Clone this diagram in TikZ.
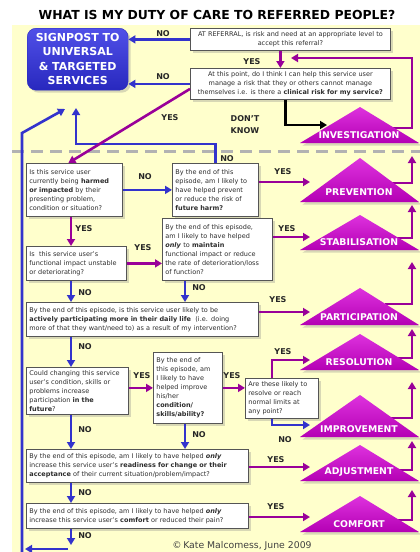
\documentclass[tikz,border=0pt]{standalone}
\usepackage{fontspec}
\setmainfont{DejaVu Sans}
\usetikzlibrary{arrows.meta,shadows}

\definecolor{bgyellow}{RGB}{255,255,204}
\definecolor{noblue}{RGB}{51,51,204}
\definecolor{yespurple}{RGB}{153,0,153}
\definecolor{tritop}{RGB}{222,50,222}
\definecolor{tribot}{RGB}{180,0,180}
\definecolor{signtop}{RGB}{80,80,232}
\definecolor{signbot}{RGB}{40,40,190}
\definecolor{boxline}{RGB}{85,85,85}
\definecolor{boxtext}{RGB}{45,45,45}
\definecolor{dashgray}{RGB}{178,178,178}

\begin{document}
\begin{tikzpicture}[x=1pt, y=-1pt,
	qbox/.style={ draw=boxline, line width=0.8pt, fill=white, anchor=north west, inner xsep=3pt, inner ysep=2pt, align=left, text=boxtext, font=\fontsize{6.5}{9}\selectfont, drop shadow={shadow xshift=2.5pt, shadow yshift=-2.5pt, opacity=0.3} },
	signbox/.style={ rounded corners=9pt, top color=signtop, bottom color=signbot, draw=signbot, anchor=north west, align=center, text=white, font=\fontsize{11}{14.5}\selectfont\bfseries, drop shadow={shadow xshift=2.5pt, shadow yshift=-2.5pt, opacity=0.3} },
	outfill/.style={ top color=tritop, bottom color=tribot, drop shadow={shadow xshift=2.5pt, shadow yshift=-2.5pt, opacity=0.3} },
	outtext/.style={ text=white, font=\fontsize{9.3}{10}\selectfont\bfseries },
	lbl/.style={ text=black!85, font=\fontsize{8}{12}\selectfont\bfseries, align=center },
	noarrow/.style={ draw=noblue, line width=2.6pt, -{Triangle[length=7pt,width=8pt]} },
	yesarrow/.style={ draw=yespurple, line width=2.6pt, -{Triangle[length=7pt,width=8pt]} },
	dkarrow/.style={ draw=black, line width=2.6pt, -{Triangle[length=7pt,width=8pt]} }
]
\useasboundingbox (0,0) rectangle (420,552);
\fill[bgyellow] (12,25) rectangle (420,552);
\draw[dashgray, line width=3pt, dash pattern=on 12pt off 7pt] (12,151) -- (420,151);

\node[font=\fontsize{12.4}{14}\selectfont\bfseries] (title) at (217,15) {WHAT IS MY DUTY OF CARE TO REFERRED PEOPLE?};

% above the line
\node[signbox, minimum width=101pt, minimum height=62pt] (sign) at (27,28) {SIGNPOST TO\\UNIVERSAL\\\& TARGETED\\SERVICES};
\node[qbox, align=center, text width=194pt, minimum height=22pt] (qref) at (190,28) {AT REFERRAL, is risk and need at an appropriate level to\\accept this referral?};
\node[qbox, align=center, text width=194pt, minimum height=31pt] (qrisk) at (190,68) {At this point, do I think I can help this service user\\manage a risk that they or others cannot manage\\themselves i.e. is there a \textbf{clinical risk for my service?}};

% questions
\node[qbox, text width=90pt, minimum height=53pt] (qharm) at (26,163) {Is this service user\\currently being \textbf{harmed}\\\textbf{or impacted} by their\\presenting problem,\\condition or situation?};
\node[qbox, text width=80pt, minimum height=53pt] (qprev) at (172,163) {By the end of this\\episode, am I likely to\\have helped prevent\\or reduce the risk of\\\textbf{future harm?}};
\node[qbox, text width=94pt, minimum height=34pt] (qunst) at (26,246) {Is\ \ this service user's\\functional impact unstable\\or deteriorating?};
\node[qbox, text width=104pt, minimum height=62pt] (qmaint) at (162,218) {By the end of this episode,\\am I likely to have helped\\\textbf{\textit{only}} to \textbf{maintain}\\functional impact or reduce\\the rate of deterioration/loss\\of function?};
\node[qbox, text width=226pt, minimum height=34pt] (qpart) at (26,302) {By the end of this episode, is this service user likely to be\\\textbf{actively participating more in their daily life}\ \ (i.e. doing\\more of that they want/need to) as a result of my intervention?};
\node[qbox, text width=96pt, minimum height=47pt] (qchg) at (26,367) {Could changing this service\\user's condition, skills or\\problems increase\\participation \textbf{in the}\\\textbf{future}?};
\node[qbox, text width=63pt, minimum height=71pt] (qimpr) at (153,352) {By the end of\\this episode, am\\I likely to have\\helped improve\\his/her\\\textbf{condition/}\\\textbf{skills/ability?}};
\node[qbox, text width=67pt, minimum height=40pt] (qres) at (245,378) {Are these likely to\\resolve or reach\\normal limits at\\any point?};
\node[qbox, text width=216pt, minimum height=33pt] (qadj) at (26,449) {By the end of this episode, am I likely to have helped \textbf{\textit{only}}\\increase this service user's \textbf{readiness for change or their}\\\textbf{acceptance} of their current situation/problem/impact?};
\node[qbox, text width=216pt, minimum height=25pt] (qcomf) at (26,503) {By the end of this episode, am I likely to have helped \textbf{\textit{only}}\\increase this service user's \textbf{comfort} or reduced their pain?};

% outcomes
\coordinate (inv-r) at (385,128);
\coordinate (inv-up) at (412,58);
\coordinate (invback) at (291,58);
\draw[yesarrow] (inv-r) -| (inv-up) -- (invback);
\path[outfill] (300,143) -- (360,107) -- (419,143) -- cycle;
\node[outtext] (tinv) at (359,135) {INVESTIGATION};

\foreach \n/\ay/\by/\ty/\ry/\uy/\iy/\lab in {
	prev/158/202/192/183/156/182/PREVENTION,
	stab/215/250/242/238/205/237/STABILISATION,
	part/288/325/317/304/262/312/PARTICIPATION,
	res/334/370/362/358/329/360/RESOLUTION,
	imp/395/437/429/418/382/425/IMPROVEMENT,
	adj/445/481/472/470/441/467/ADJUSTMENT,
	com/496/532/524/520/490/517/COMFORT}
{
	\coordinate (\n-in) at (310,\iy);
	\coordinate (\n-r) at (385,\ry);
	\coordinate (\n-up) at (412,\uy);
	\draw[yesarrow] (\n-r) -| (\n-up);
	\path[outfill] (300,\by) -- (360,\ay) -- (419,\by) -- cycle;
	\node[outtext] (t\n) at (359,\ty) {\lab};
}

\coordinate (lcol) at (71,0);
\coordinate (mcol) at (185,0);
\coordinate (rcol) at (272,0);
\coordinate (dkend) at (327,125);
\coordinate (upturn) at (76,144);
\coordinate (upend) at (76,108);
\coordinate (leftbot) at (22,552);
\coordinate (leftturn) at (22,133);
\coordinate (leftend) at (65,109);
\coordinate (botend) at (71,545);
\coordinate (botstart) at (68,549);
\coordinate (botleft) at (25,549);

% connectors
\draw[noarrow] (qref.west) -- (qref.west -| sign.east);
\draw[noarrow] (qrisk.west) -- (qrisk.west -| sign.east);
\draw[yesarrow] ([xshift=-10pt]qref.south) -- ([xshift=-10pt]qrisk.north);
\draw[dkarrow] ([xshift=-5pt]qrisk.south) |- (dkend);
\draw[noarrow] (leftbot) -- (leftturn) -- (leftend);
\draw[noarrow] (qprev.north) |- (upturn) -- (upend);
\draw[yesarrow] ([yshift=-5pt]qrisk.west) -- ([xshift=-6pt]qharm.north);

\draw[noarrow] (qharm.east) -- (qharm.east -| qprev.west);
\draw[yesarrow] (qprev.east |- prev-in) -- (prev-in);
\draw[yesarrow] (qharm.south -| lcol) -- (qunst.north -| lcol);
\draw[yesarrow] (qunst.east) -- (qunst.east -| qmaint.west);
\draw[yesarrow] (qmaint.east |- stab-in) -- (stab-in);
\draw[noarrow] (qunst.south -| lcol) -- (qpart.north -| lcol);
\draw[noarrow] (qmaint.south -| mcol) -- (qpart.north -| mcol);
\draw[yesarrow] (qpart.east |- part-in) -- (part-in);
\draw[noarrow] (qpart.south -| lcol) -- (qchg.north -| lcol);
\draw[yesarrow] (qchg.east |- qimpr.west) -- (qimpr.west);
\draw[yesarrow] (qimpr.east) -- (qimpr.east -| qres.west);
\draw[yesarrow] (qres.north -| rcol) |- (res-in);
\draw[noarrow] (qres.south -| rcol) |- (imp-in);
\draw[noarrow] (qchg.south -| lcol) -- (qadj.north -| lcol);
\draw[noarrow] (qimpr.south -| mcol) -- (qadj.north -| mcol);
\draw[yesarrow] (qadj.east |- adj-in) -- (adj-in);
\draw[noarrow] (qadj.south -| lcol) -- (qcomf.north -| lcol);
\draw[yesarrow] (qcomf.east |- com-in) -- (com-in);
\draw[noarrow] (qcomf.south -| lcol) -- (botend);
\draw[noarrow] (botstart) -- (botleft);

% labels
\foreach \n/\x/\y/\t in {nref/163/34/NO, nrisk/163/77/NO, yref/252/62/YES, yrisk/170/118/YES,
	dk/245/125/{DON'T\\KNOW}, nprev/227/159/NO, nharm/145/177/NO, yprev/283/172/YES,
	yharm/84/229/YES, yunst/143/248/YES, ymaint/287/229/YES, nunst/85/293/NO,
	nmaint/199/288/NO, ypart/278/300/YES, npart/85/347/NO, ychg/142/376/YES,
	yimpr/232/376/YES, yres/283/352/YES, nchg/85/430/NO, nimpr/199/435/NO,
	nres/285/440/NO, yadj/276/460/YES, nadj/85/493/NO, ycomf/276/507/YES, ncomf/85/536/NO}
	\node[lbl] (\n) at (\x,\y) {\t};

\node[font=\fontsize{9.3}{10}\selectfont, text=black!75] (copy) at (242,546) {©\,Kate Malcomess, June 2009};

\end{tikzpicture}
\end{document}
